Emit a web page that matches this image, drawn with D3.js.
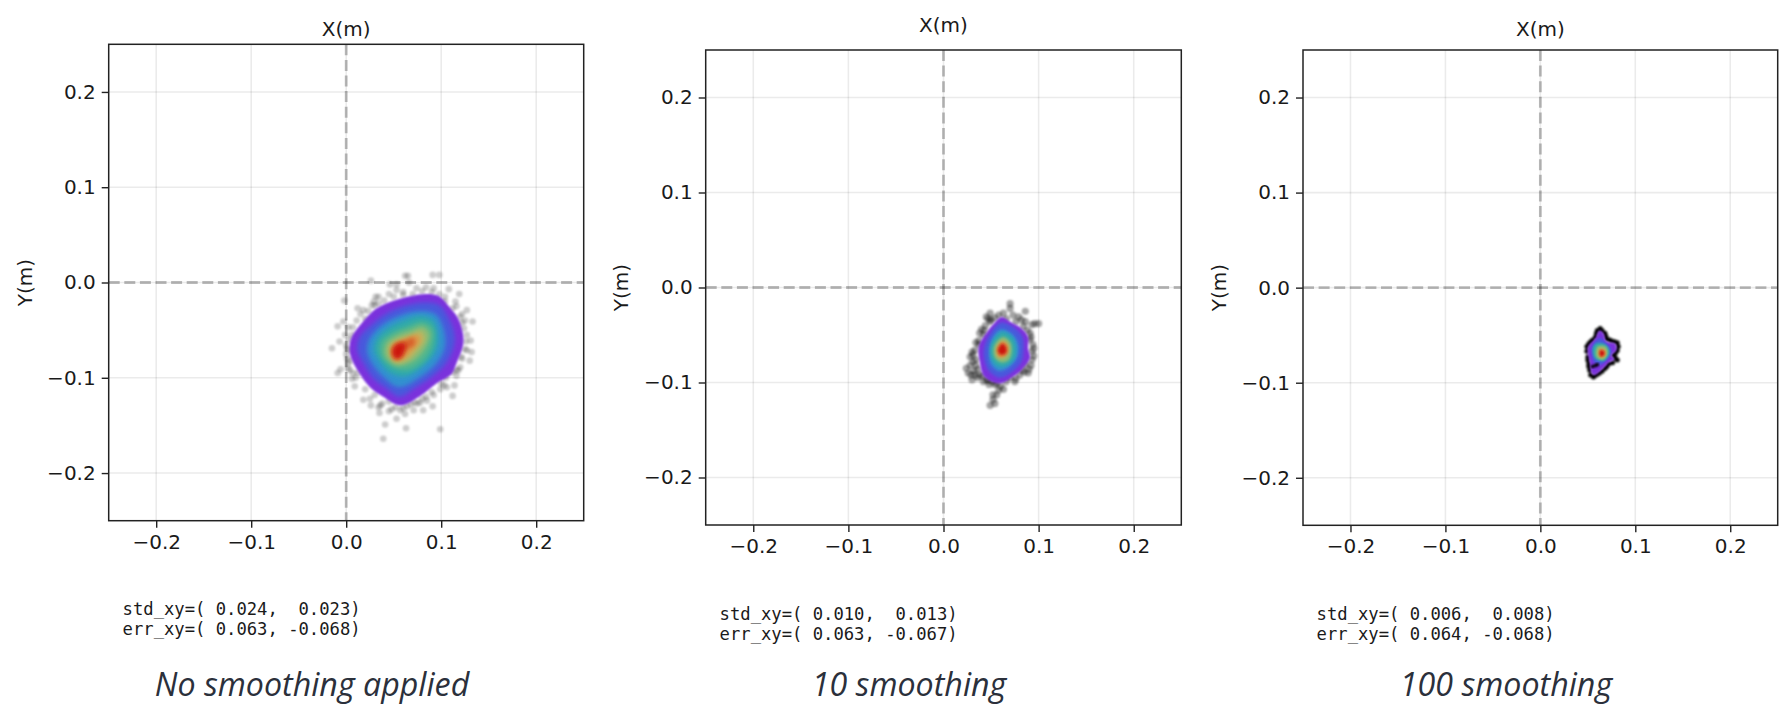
<!DOCTYPE html>
<meta charset="utf-8">
<style>
body { margin: 0; background: white; }
svg text { font-family: "DejaVu Sans", sans-serif; fill: #1a1a1a; }
.axis text { font-size: 20px; }
.axis path, .axis line { stroke: #222; stroke-width: 1.4px; }
.stat { font-family: "DejaVu Mono", "DejaVu Sans Mono", monospace !important; font-size: 17.2px; }
.caption { font-family: "Open Sans", "Noto Sans", sans-serif !important; font-style: italic; font-size: 32.2px; fill: #2b303b !important; }
</style>
<body>
<script src="https://d3js.org/d3.v7.min.js"></script>
<script>
'use strict';

const ticks = [-0.2, -0.1, 0.0, 0.1, 0.2];
const captions = ["No smoothing applied", "10 smoothing", "100 smoothing"];
const stdLines = ["std_xy=( 0.024,  0.023)", "std_xy=( 0.010,  0.013)", "std_xy=( 0.006,  0.008)"];
const errLines = ["err_xy=( 0.063, -0.068)", "err_xy=( 0.063, -0.067)", "err_xy=( 0.064, -0.068)"];

// rainbow colours from the edge of the blob to its peak
const levelColors = ["#7a30dc", "#4a58dc", "#3090d0", "#2ea8ac", "#50b68e", "#8abc74", "#bcb65e", "#dc9a4a", "#d8602c", "#cc1210"];

// points, x,y in metres
const dots1 = [[.062,.007],[.065,.007],[.091,.008],[.098,.008],[.026,.002],[.046,-.002],[.053,-.002],[.066,0],[.074,-.006],[.084,-.005],[.092,-.006],[.045,-.012],[.031,-.015],[.034,-.015],[.029,-.020],[.027,-.024],[.034,-.022],[.053,-.008],[.060,-.010],[.108,-.007],[.119,-.012],[.104,-.015],[.115,-.020],[.116,-.025],[.127,-.029],[.018,-.029],[.012,-.027],[.015,-.033],[-.002,-.019],[-.009,-.046],[-.003,-.041],[.002,-.047],[.007,-.047],[.133,-.041],[.125,-.040],[.122,-.033],[.124,-.048],[.131,-.061],[.127,-.071],[.132,-.073],[.130,-.082],[.122,-.080],[.120,-.089],[.116,-.092],[.114,-.108],[.112,-.119],[.099,-.112],[.106,-.110],[-.015,-.069],[-.007,-.062],[-.001,-.055],[0,-.066],[.001,-.080],[-.006,-.091],[-.009,-.095],[.004,-.092],[.006,-.101],[.009,-.109],[.018,-.123],[.025,-.122],[.026,-.129],[.034,-.131],[.035,-.137],[.045,-.135],[.053,-.143],[.057,-.134],[.062,-.138],[.071,-.134],[.078,-.126],[.081,-.134],[.091,-.130],[.085,-.124],[.041,-.149],[.063,-.153],[.039,-.164],[.099,-.154],[.020,-.038],[.011,-.040],[.006,-.055],[.005,-.071],[0,-.075],[.002,-.085],[.012,-.095],[.030,-.118],[.045,-.125],[.060,-.132],[.075,-.127],[.090,-.115],[.105,-.100],[.118,-.092],[.125,-.070],[.127,-.055],[.122,-.042],[.112,-.027],[.098,-.012],[.080,-.009],[.060,-.013],[.040,-.019],[.023,-.030],[.003,-.060],[.001,-.070],[.004,-.082],[.010,-.100],[.020,-.112],[.038,-.127],[.052,-.131],[.068,-.128],[.084,-.120],[.100,-.106],[.112,-.094],[.121,-.078],[.126,-.062],[.120,-.036],[.104,-.020],[.090,-.010],[.070,-.012],[.050,-.015],[.030,-.024],[.036,-.129],[.048,-.133],[.064,-.130],[.072,-.126],[.080,-.122],[.092,-.118],[.103,-.108],[.116,-.098],[.002,-.090],[.007,-.095]];
const dots2 = [[.070,-.017],[.070,-.022],[.049,-.027],[.063,-.027],[.086,-.025],[.079,-.031],[.073,-.029],[.086,-.036],[.093,-.039],[.100,-.038],[.096,-.038],[.049,-.036],[.043,-.045],[.042,-.050],[.037,-.056],[.037,-.060],[.091,-.048],[.091,-.055],[.093,-.067],[.031,-.071],[.028,-.073],[.024,-.085],[.032,-.088],[.030,-.097],[.036,-.095],[.031,-.078],[.093,-.076],[.086,-.081],[.089,-.090],[.080,-.092],[.070,-.095],[.063,-.107],[.054,-.102],[.058,-.108],[.052,-.113],[.049,-.124],[.054,-.122],[.042,-.099],[.051,-.099],[.058,-.029],[.066,-.033],[.076,-.036],[.084,-.041],[.050,-.034],[.044,-.040],[.038,-.048],[.034,-.058],[.033,-.066],[.034,-.076],[.036,-.086],[.041,-.093],[.047,-.098],[.056,-.101],[.066,-.099],[.076,-.096],[.085,-.089],[.092,-.082],[.095,-.072],[.094,-.060],[.092,-.052],[.029,-.092],[.034,-.082],[.054,-.032],[.045,-.031],[.082,-.034],[.083,-.087],[.045,-.097],[.038,-.092],[.056,-.113],[.052,-.118],[.060,-.104],[.026,-.090],[.033,-.092],[.040,-.044],[.047,-.033],[.088,-.045],[.095,-.064],[.090,-.086],[.075,-.099],[.048,-.102],[.030,-.068],[.028,-.082]];
const dots3 = [[.063,-.043],[.065,-.045],[.068,-.048],[.069,-.051],[.070,-.054],[.073,-.055],[.075,-.056],[.078,-.057],[.081,-.058],[.082,-.062],[.081,-.066],[.079,-.069],[.077,-.071],[.079,-.074],[.081,-.076],[.076,-.079],[.072,-.080],[.070,-.083],[.068,-.085],[.065,-.088],[.062,-.090],[.059,-.092],[.056,-.094],[.053,-.092],[.052,-.087],[.051,-.083],[.051,-.080],[.050,-.076],[.050,-.073],[.049,-.067],[.049,-.062],[.051,-.059],[.053,-.057],[.055,-.055],[.058,-.052],[.059,-.048],[.060,-.045]];
const topDots3 = [[.055,-.083],[.058,-.082],[.060,-.081]];

// contour outlines, edge first
const rings1 = [
  [[.083,-.012],[.097,-.014],[.108,-.025],[.118,-.038],[.123,-.054],[.123,-.066],[.116,-.085],[.111,-.096],[.095,-.106],[.078,-.119],[.057,-.129],[.039,-.120],[.025,-.110],[.013,-.094],[.004,-.075],[.005,-.059],[.016,-.043],[.032,-.027],[.053,-.018]],
  [[.082,-.021],[.098,-.024],[.109,-.040],[.114,-.055],[.113,-.068],[.105,-.085],[.089,-.100],[.072,-.111],[.056,-.120],[.042,-.111],[.029,-.101],[.019,-.086],[.012,-.072],[.014,-.058],[.025,-.046],[.040,-.034],[.060,-.025]],
  [[.081,-.030],[.095,-.034],[.103,-.050],[.104,-.068],[.095,-.085],[.077,-.100],[.056,-.110],[.041,-.101],[.029,-.088],[.022,-.073],[.024,-.060],[.037,-.045],[.058,-.034]],
  [[.079,-.035],[.092,-.040],[.097,-.058],[.094,-.073],[.081,-.088],[.062,-.099],[.046,-.095],[.034,-.081],[.029,-.071],[.032,-.059],[.045,-.047],[.062,-.039]],
  [[.080,-.041],[.091,-.047],[.092,-.064],[.084,-.080],[.066,-.092],[.050,-.090],[.037,-.078],[.036,-.063],[.049,-.052],[.066,-.045]],
  [[.080,-.046],[.088,-.053],[.084,-.068],[.070,-.083],[.053,-.087],[.041,-.077],[.042,-.064],[.054,-.055],[.068,-.050]],
  [[.079,-.051],[.083,-.059],[.076,-.070],[.065,-.081],[.052,-.084],[.045,-.075],[.046,-.065],[.056,-.059],[.068,-.055]],
  [[.076,-.055],[.078,-.062],[.071,-.070],[.062,-.079],[.052,-.082],[.047,-.073],[.049,-.066],[.060,-.060]],
  [[.071,-.058],[.072,-.065],[.063,-.071],[.058,-.078],[.051,-.080],[.048,-.071],[.052,-.065],[.062,-.061]],
  [[.062,-.064],[.061,-.072],[.057,-.079],[.051,-.079],[.049,-.071],[.053,-.065]]
];
const rings2 = [
  [[.061,-.031],[.070,-.036],[.082,-.043],[.089,-.052],[.089,-.064],[.091,-.074],[.082,-.087],[.073,-.094],[.059,-.101],[.043,-.094],[.038,-.078],[.037,-.062],[.045,-.048],[.052,-.039]],
  [[.060,-.037],[.074,-.042],[.083,-.052],[.084,-.066],[.082,-.078],[.072,-.089],[.059,-.095],[.048,-.088],[.043,-.076],[.043,-.062],[.050,-.047]],
  [[.060,-.044],[.071,-.048],[.078,-.058],[.078,-.072],[.070,-.083],[.059,-.088],[.050,-.081],[.048,-.068],[.051,-.054]],
  [[.061,-.047],[.072,-.052],[.076,-.062],[.075,-.074],[.067,-.082],[.057,-.083],[.050,-.074],[.050,-.060]],
  [[.062,-.052],[.070,-.057],[.072,-.066],[.069,-.076],[.061,-.079],[.054,-.074],[.053,-.062]],
  [[.062,-.056],[.068,-.060],[.068,-.069],[.063,-.074],[.057,-.073],[.056,-.063]],
  [[.062,-.059],[.066,-.063],[.066,-.069],[.060,-.071],[.057,-.066]]
];
const rings3 = [
  [[.063,-.045],[.067,-.049],[.069,-.056],[.079,-.059],[.080,-.066],[.075,-.071],[.078,-.075],[.072,-.079],[.067,-.084],[.057,-.092],[.054,-.090],[.052,-.079],[.050,-.063],[.058,-.053],[.061,-.046]],
  [[.063,-.053],[.070,-.059],[.075,-.066],[.072,-.073],[.064,-.081],[.057,-.079],[.054,-.068],[.056,-.059]],
  [[.062,-.058],[.070,-.061],[.073,-.069],[.067,-.077],[.058,-.075],[.055,-.066],[.057,-.060]],
  [[.060,-.062],[.069,-.062],[.071,-.069],[.066,-.076],[.059,-.073]],
  [[.062,-.064],[.068,-.065],[.069,-.071],[.064,-.074],[.061,-.070]],
  [[.063,-.066],[.067,-.067],[.067,-.071],[.063,-.072]]
];
const ringLevels = [
  [0, 1, 2, 3, 4, 5, 6, 7, 8, 9],
  [0, 1, 2, 3, 5, 7, 9],
  [0, 1, 3, 5, 7, 9]
];

const width = 1780, height = 706;

const panels = [
  {left: 108.7, right: 583.7, top: 44.3, bottom: 520.7, dots: dots1, rings: rings1, levels: ringLevels[0], r: 3.3, alpha: .2, blur: 2.2, topDots: [],
   xLabelY: 36, yLabelX: 32, statX: 122.6, statY: 615, capX: 312},
  {left: 705.7, right: 1181.3, top: 50, bottom: 525, dots: dots2, rings: rings2, levels: ringLevels[1], r: 3.6, alpha: .36, blur: 1.5, topDots: [],
   xLabelY: 32, yLabelX: 628, statX: 719.6, statY: 620, capX: 909},
  {left: 1303, right: 1777.7, top: 50, bottom: 525.3, dots: dots3, rings: rings3, levels: ringLevels[2], r: 2.5, alpha: 1, blur: .9, topDots: topDots3,
   xLabelY: 36, yLabelX: 1226, statX: 1316.6, statY: 620, capX: 1506}
];

const svg = d3.select("body").append("svg")
    .attr("width", width)
    .attr("height", height)
    .style("display", "block");

const defs = svg.append("defs");
defs.append("filter").attr("id", "soft").append("feGaussianBlur").attr("stdDeviation", 1.1);

const levelColor = d3.scaleLinear().domain(d3.range(levelColors.length)).range(levelColors);

panels.forEach(function(p, i) {
  const x = d3.scaleLinear().domain([-0.25, 0.25]).range([p.left, p.right]);
  const y = d3.scaleLinear().domain([-0.25, 0.25]).range([p.bottom, p.top]);
  const g = svg.append("g");

  defs.append("filter").attr("id", "inner" + i)
      .attr("x", "-50%").attr("y", "-50%").attr("width", "200%").attr("height", "200%")
    .append("feGaussianBlur").attr("stdDeviation", p.blur);

  // grid
  g.selectAll(".gx").data(ticks).enter().append("line")
      .attr("x1", d => x(d)).attr("x2", d => x(d))
      .attr("y1", p.top).attr("y2", p.bottom)
      .attr("stroke", "#000").attr("stroke-opacity", .08).attr("stroke-width", 1.6);
  g.selectAll(".gy").data(ticks).enter().append("line")
      .attr("y1", d => y(d)).attr("y2", d => y(d))
      .attr("x1", p.left).attr("x2", p.right)
      .attr("stroke", "#000").attr("stroke-opacity", .08).attr("stroke-width", 1.6);

  // dashed zero lines
  g.append("line").attr("x1", x(0)).attr("x2", x(0)).attr("y1", p.top).attr("y2", p.bottom)
      .attr("stroke", "#000").attr("stroke-opacity", .26).attr("stroke-width", 2.8).attr("stroke-dasharray", "11,4.6");
  g.append("line").attr("y1", y(0)).attr("y2", y(0)).attr("x1", p.left).attr("x2", p.right)
      .attr("stroke", "#000").attr("stroke-opacity", .26).attr("stroke-width", 2.8).attr("stroke-dasharray", "11,4.6");

  g.append("g").attr("filter", "url(#soft)").selectAll("circle").data(p.dots).enter().append("circle")
      .attr("cx", d => x(d[0])).attr("cy", d => y(d[1])).attr("r", p.r)
      .attr("fill", "#000").attr("fill-opacity", p.alpha);

  const ring = d3.line().x(d => x(d[0])).y(d => y(d[1])).curve(d3.curveCatmullRomClosed.alpha(.5));
  const blob = g.append("g");
  blob.selectAll("path").data(p.rings).enter().append("path")
      .attr("d", ring)
      .attr("fill", (d, k) => levelColor(p.levels[k]))
      .attr("filter", (d, k) => k == 0 ? "url(#soft)" : "url(#inner" + i + ")");

  g.append("g").attr("filter", "url(#soft)").selectAll("circle").data(p.topDots).enter().append("circle")
      .attr("cx", d => x(d[0])).attr("cy", d => y(d[1])).attr("r", 1.8)
      .attr("fill", "#000");

  // axes and frame
  const xAxis = d3.axisBottom(x).tickValues(ticks).tickFormat(d3.format(".1f")).tickSize(7).tickSizeOuter(0).tickPadding(7);
  const yAxis = d3.axisLeft(y).tickValues(ticks).tickFormat(d3.format(".1f")).tickSize(7).tickSizeOuter(0).tickPadding(6);
  g.append("g").attr("class", "axis").attr("transform", "translate(0," + p.bottom + ")").call(xAxis);
  g.append("g").attr("class", "axis").attr("transform", "translate(" + p.left + ",0)").call(yAxis);
  g.selectAll(".axis path").remove();
  g.append("rect").attr("x", p.left).attr("y", p.top)
      .attr("width", p.right - p.left).attr("height", p.bottom - p.top)
      .attr("fill", "none").attr("stroke", "#222").attr("stroke-width", 1.5);

  // labels
  g.append("text").attr("x", x(0)).attr("y", p.xLabelY).attr("text-anchor", "middle")
      .style("font-size", "20px").text("X(m)");
  g.append("text").attr("transform", "translate(" + p.yLabelX + "," + y(0) + ") rotate(-90)")
      .attr("text-anchor", "middle").style("font-size", "20px").text("Y(m)");

  g.append("text").attr("class", "stat").attr("x", p.statX).attr("y", p.statY)
      .style("white-space", "pre").text(stdLines[i]);
  g.append("text").attr("class", "stat").attr("x", p.statX).attr("y", p.statY + 19.5)
      .style("white-space", "pre").text(errLines[i]);

  g.append("text").attr("class", "caption").attr("x", p.capX).attr("y", 696)
      .attr("text-anchor", "middle").text(captions[i]);
});
</script>
</body>
